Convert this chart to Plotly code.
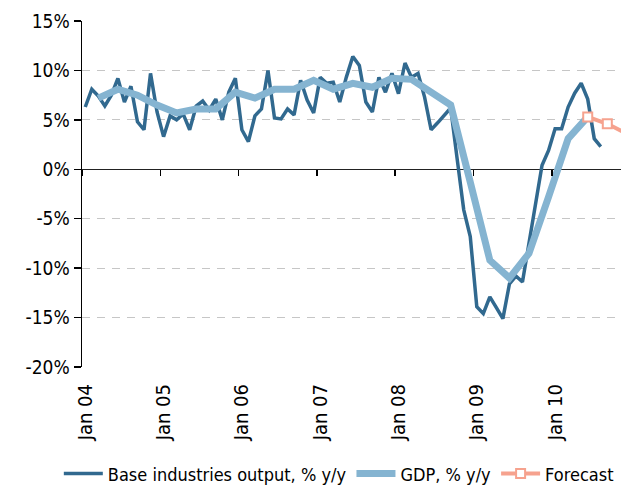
import plotly.graph_objects as go

# ---------------- data ----------------
# monthly index: 0 = Jan 2004
base_month_idx = list(range(0, 80))
base_values = [
    6.3, 8.1, 7.4, 6.4, 7.5, 9.2, 6.8, 8.4, 4.8, 4.0, 9.7, 5.8,   # 2004
    3.3, 5.4, 5.0, 5.6, 4.0, 6.4, 6.9, 6.0, 7.1, 5.0, 7.8, 9.2,   # 2005
    4.0, 2.8, 5.4, 6.1, 10.0, 5.2, 5.1, 6.1, 5.5, 9.0, 7.0, 5.7,  # 2006
    9.3, 8.7, 8.8, 6.8, 9.3, 11.4, 10.5, 6.8, 5.8, 9.3, 7.8, 9.7, # 2007
    7.65, 10.75, 9.3, 9.7, 7.3, 4.0, 4.7, 5.4, 6.2, 1.0, -4.1, -6.8,  # 2008
    -13.9, -14.6, -12.9, -14.0, -15.1, -11.6, -10.8, -11.4, -7.6, -3.6, 0.4, 1.9,  # 2009
    4.1, 4.1, 6.3, 7.7, 8.7, 7.1, 3.1, 2.3,                       # 2010
]

gdp_month_idx = [2, 5, 8, 11, 14, 17, 20, 23, 26, 29, 32, 35, 38, 41, 44, 47,
                 50, 53, 56, 59, 62, 65, 68, 71, 74, 77]
gdp_values = [7.2, 8.1, 7.5, 6.5, 5.7, 6.1, 6.1, 7.8, 7.2, 8.1, 8.1, 9.0, 8.1, 8.7, 8.3, 9.2,
              9.1, 7.8, 6.5, -1.3, -9.2, -11.0, -8.5, -2.8, 3.1, 5.3]

forecast_month_idx = [77, 80, 83]
forecast_values = [5.3, 4.6, 3.6]

year_label_idx = [0, 12, 24, 36, 48, 60, 72]
year_labels = ["Jan 04", "Jan 05", "Jan 06", "Jan 07", "Jan 08", "Jan 09", "Jan 10"]
year_boundary_idx = [-0.5, 11.5, 23.5, 35.5, 47.5, 59.5, 71.5]

y_tick_vals = [-20, -15, -10, -5, 0, 5, 10, 15]
y_tick_text = ["-20%", "-15%", "-10%", "-5%", "0%", "5%", "10%", "15%"]

series_names = ["Base industries output, % y/y", "GDP, % y/y", "Forecast"]

# ---------------- figure ----------------
FONT = "DejaVu Sans Condensed, Liberation Sans Narrow, Liberation Sans, sans-serif"
X_RANGE = [-0.5, 82.1]

fig = go.Figure()
fig.add_trace(go.Scatter(
    x=base_month_idx, y=base_values, mode="lines", name=series_names[0],
    line=dict(color="#31698f", width=3.5),
))
fig.add_trace(go.Scatter(
    x=gdp_month_idx, y=gdp_values, mode="lines", name=series_names[1],
    line=dict(color="#85b4d1", width=7),
))
fig.add_trace(go.Scatter(
    x=forecast_month_idx, y=forecast_values, mode="lines+markers", name=series_names[2],
    line=dict(color="#f6a28e", width=4),
    marker=dict(symbol="square", size=9, color="white",
                line=dict(color="#f6a28e", width=2)),
))

fig.update_layout(
    width=621, height=486,
    margin=dict(l=82, r=0, t=21, b=119, autoexpand=False),
    paper_bgcolor="white", plot_bgcolor="white",
    font=dict(family=FONT, size=19, color="black"),
    showlegend=True,
    legend=dict(orientation="h", x=-0.043, xanchor="left", y=-0.309, yanchor="middle",
                font=dict(family=FONT, size=18, color="black"),
                itemwidth=39, tracegroupgap=0, bgcolor="rgba(0,0,0,0)"),
    xaxis=dict(range=X_RANGE, tickmode="array", tickvals=year_label_idx, ticktext=year_labels,
               tickangle=-90, ticks="", showline=False, showgrid=False, zeroline=False,
               ticklabelstandoff=12, automargin=False,
               tickfont=dict(family=FONT, size=20, color="black")),
    xaxis2=dict(range=X_RANGE, overlaying="x", anchor="free", position=20 / 35, side="bottom",
                tickmode="array", tickvals=year_boundary_idx, ticks="outside", ticklen=6,
                tickwidth=1.5, tickcolor="black", showticklabels=False, showline=False,
                showgrid=False, zeroline=False),
    yaxis=dict(range=[-20, 15], tickmode="array", tickvals=y_tick_vals, ticktext=y_tick_text,
               showline=True, linecolor="black", linewidth=1.5, ticks="outside", ticklen=7,
               tickwidth=1.5, tickcolor="black",
               showgrid=True, gridcolor="#c6c6c6", gridwidth=1, griddash="8px,7px",
               zeroline=True, zerolinecolor="#222222", zerolinewidth=1.5,
               automargin=False, tickfont=dict(family=FONT, size=19, color="black")),
)
# invisible helper so xaxis2 (year tick marks on zero line) is rendered
fig.add_trace(go.Scatter(x=[X_RANGE[0]], y=[0], xaxis="x2", mode="markers",
                         marker=dict(opacity=0), showlegend=False, hoverinfo="skip"))

# remove the page's default body margin so the 621x486 figure fills the window exactly
fig.write_html(
    "out.html",
    config={"displayModeBar": False, "staticPlot": True},
    post_script="document.body.style.margin='0';document.body.style.overflow='hidden';",
)
